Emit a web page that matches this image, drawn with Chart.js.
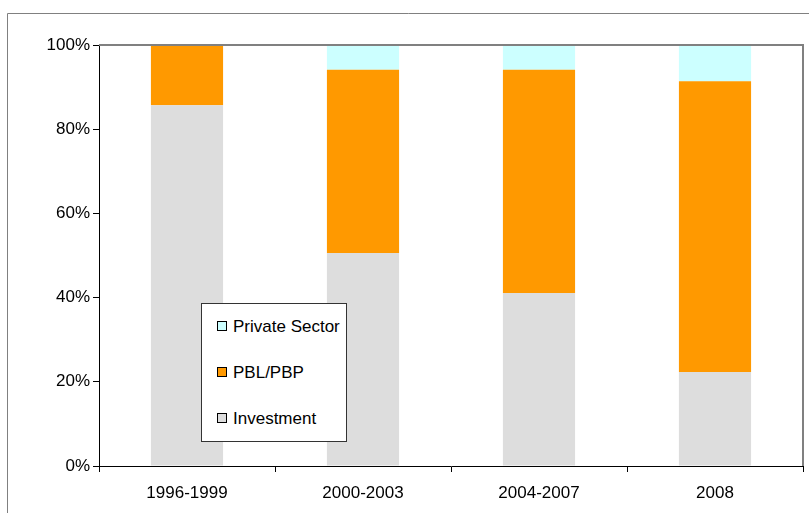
<!DOCTYPE html>
<html>
<head>
<meta charset="utf-8">
<script src="https://cdn.jsdelivr.net/npm/chart.js@4/dist/chart.umd.min.js"></script>
<style>
  body { margin: 0; background: #fff; }
  #wrap { position: relative; width: 809px; height: 513px; }
  #leyenda {
    position: absolute; left: 201px; top: 303px; width: 144px; height: 137px;
    border: 1px solid #333; background: #fff;
    font-family: "Liberation Sans", Arial, sans-serif; font-size: 17px; color: #000;
  }
  #leyenda div { position: absolute; left: 15px; white-space: nowrap; }
  #leyenda span.caja {
    display: inline-block; width: 8px; height: 8px; border: 1px solid #000;
    margin-right: 6px; vertical-align: 1px;
  }
</style>
</head>
<body>
<div id="wrap">
  <canvas id="grafico" width="809" height="513"></canvas>
  <div id="leyenda"></div>
</div>
<script>
// Datos
const periodos = ['1996-1999', '2000-2003', '2004-2007', '2008'];
const inversion = [85.7, 50.6, 41.1, 22.3];
const pblPbp = [14.3, 43.5, 53.0, 69.1];
const sectorPrivado = [0, 5.9, 5.9, 8.6];
const ticksY = [0, 20, 40, 60, 80, 100];

const fuente = { family: '"Liberation Sans", Arial, sans-serif', size: 17 };

// Marco exterior y borde del area de trazado
const marco = {
    id: 'marco',
    beforeDraw(chart) {
        const ctx = chart.ctx;
        ctx.save();
        ctx.strokeStyle = '#808080';
        ctx.lineWidth = 1;
        ctx.beginPath();
        ctx.moveTo(7.5, 513);
        ctx.lineTo(7.5, 13.5);
        ctx.lineTo(809, 13.5);
        ctx.stroke();
        ctx.restore();
    },
    afterDatasetsDraw(chart) {
        const a = chart.chartArea;
        const ctx = chart.ctx;
        ctx.save();
        ctx.strokeStyle = '#808080';
        ctx.lineWidth = 2;
        ctx.beginPath();
        ctx.moveTo(a.left, a.top);
        ctx.lineTo(a.right, a.top);
        ctx.lineTo(a.right, a.bottom);
        ctx.stroke();
        ctx.restore();
    }
};

const grafico = new Chart(document.getElementById('grafico'), {
    type: 'bar',
    data: {
        labels: periodos,
        datasets: [
            { label: 'Investment', data: inversion, backgroundColor: '#DDDDDD' },
            { label: 'PBL/PBP', data: pblPbp, backgroundColor: '#FF9900' },
            { label: 'Private Sector', data: sectorPrivado, backgroundColor: '#CCFFFF' },
        ]
    },
    options: {
        responsive: false,
        animation: false,
        layout: { padding: { left: 0, right: 6, top: 45, bottom: 0 } },
        datasets: { bar: { categoryPercentage: 1, barPercentage: 0.41 } },
        plugins: { legend: { display: false }, tooltip: { enabled: false } },
        scales: {
            x: {
                stacked: true,
                grid: { color: 'transparent', tickColor: '#000', tickLength: 6, offset: true },
                border: { color: '#000', width: 1 },
                ticks: { color: '#000', font: fuente, padding: 11 },
                afterFit(scale) { scale.height = 47; }
            },
            y: {
                stacked: true,
                min: 0, max: 100,
                afterBuildTicks(scale) { scale.ticks = ticksY.map(v => ({ value: v })); },
                grid: { color: 'transparent', tickColor: '#000', tickLength: 6 },
                border: { color: '#000', width: 1 },
                ticks: { color: '#000', font: fuente, padding: 3, callback: v => v + '%' },
                afterFit(scale) { scale.width = 99; }
            }
        }
    },
    plugins: [marco]
});

// Leyenda (orden inverso, como en el original)
const leyenda = document.getElementById('leyenda');
grafico.data.datasets.slice().reverse().forEach((ds, i) => {
    const item = document.createElement('div');
    item.style.top = (13 + i * 46) + 'px';
    item.innerHTML = '<span class="caja" style="background:' + ds.backgroundColor + '"></span>' + ds.label;
    leyenda.appendChild(item);
});
</script>
</body>
</html>
